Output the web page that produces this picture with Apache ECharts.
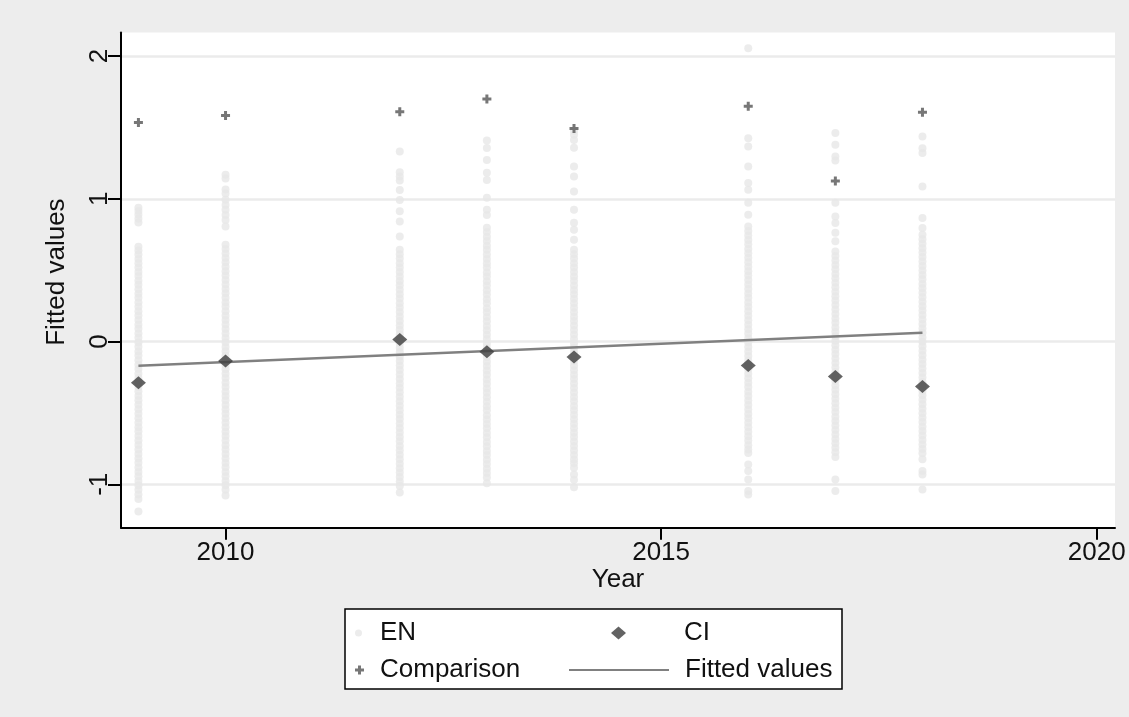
<!DOCTYPE html>
<html>
<head>
<meta charset="utf-8">
<script src="https://cdn.jsdelivr.net/npm/echarts@6/dist/echarts.min.js"></script>
<style>
  html, body { margin: 0; padding: 0; background: #ededed; }
  #chart { width: 1129px; height: 717px; }
</style>
</head>
<body>
<div id="chart"></div>
<script>
// Survey years with an observation
const years = [2009, 2010, 2012, 2013, 2014, 2016, 2017, 2018];

// Year-level means
const ciValues = [-0.289, -0.137, 0.015, -0.071, -0.109, -0.167, -0.244, -0.314];
const comparisonValues = [1.535, 1.584, 1.609, 1.700, 1.493, 1.649, 1.124, 1.607];

// Linear fit, drawn between first and last year
const fitYears = [2009, 2018];
const fitValues = [-0.170, 0.061];

// Individual EN observations per year
const en2009 = [0.937, 0.915, 0.889, 0.861, 0.834,
  0.664, 0.637, 0.609, 0.578, 0.549, 0.518, 0.487, 0.459, 0.426, 0.398, 0.367, 0.335, 0.306, 0.274, 0.243,
  0.212, 0.183, 0.151, 0.118, 0.089, 0.057, 0.026, -0.006, -0.037, -0.069, -0.098, -0.131, -0.162, -0.193,
  -0.226, -0.255, -0.287, -0.318, -0.349, -0.382, -0.411, -0.443, -0.474, -0.506, -0.537, -0.568, -0.601,
  -0.629, -0.662, -0.693, -0.725, -0.756, -0.787, -0.819, -0.849, -0.882, -0.913, -0.944, -0.976, -1.008,
  -1.039, -1.071, -1.103, -1.191];
const en2010 = [1.168, 1.143, 1.066, 1.037, 0.994, 0.957, 0.924, 0.887, 0.852, 0.806,
  0.678, 0.649, 0.617, 0.586, 0.556, 0.524, 0.493, 0.463, 0.431, 0.399, 0.368, 0.338, 0.306, 0.274, 0.245,
  0.213, 0.181, 0.151, 0.119, 0.088, 0.057, 0.025, -0.006, -0.038, -0.068, -0.099, -0.131, -0.163, -0.194,
  -0.225, -0.256, -0.288, -0.318, -0.351, -0.381, -0.412, -0.444, -0.476, -0.506, -0.538, -0.569, -0.601,
  -0.631, -0.662, -0.694, -0.726, -0.757, -0.788, -0.819, -0.851, -0.881, -0.913, -0.944, -0.976, -1.007,
  -1.039, -1.078];
const en2012 = [1.331, 1.186, 1.157, 1.128, 1.061, 0.992, 0.912, 0.841, 0.736,
  0.643, 0.612, 0.581, 0.549, 0.519, 0.487, 0.456, 0.425, 0.394, 0.363, 0.331, 0.301, 0.269, 0.238, 0.207,
  0.176, 0.144, 0.113, 0.082, 0.051, 0.019, -0.012, -0.043, -0.074, -0.106, -0.137, -0.168, -0.199, -0.231,
  -0.262, -0.293, -0.324, -0.356, -0.387, -0.418, -0.449, -0.481, -0.512, -0.543, -0.574, -0.606, -0.637,
  -0.668, -0.699, -0.731, -0.762, -0.793, -0.824, -0.856, -0.887, -0.918, -0.949, -0.981, -1.012, -1.058];
const en2013 = [1.409, 1.356, 1.271, 1.182, 1.131, 1.007, 0.924, 0.887,
  0.797, 0.768, 0.734, 0.705, 0.672, 0.643, 0.609, 0.579, 0.547, 0.518, 0.484, 0.455, 0.422, 0.392, 0.359,
  0.329, 0.297, 0.268, 0.234, 0.205, 0.172, 0.142, 0.109, 0.079, 0.047, 0.018, -0.016, -0.045, -0.078,
  -0.108, -0.141, -0.171, -0.203, -0.232, -0.266, -0.295, -0.328, -0.358, -0.391, -0.421, -0.453, -0.482,
  -0.516, -0.546, -0.578, -0.607, -0.641, -0.671, -0.703, -0.733, -0.766, -0.795, -0.828, -0.858, -0.891,
  -0.921, -0.953, -0.992];
const en2014 = [1.476, 1.449, 1.412, 1.357, 1.226, 1.157, 1.052, 0.923, 0.832, 0.783, 0.713,
  0.643, 0.611, 0.582, 0.549, 0.519, 0.488, 0.455, 0.426, 0.393, 0.362, 0.331, 0.299, 0.269, 0.237, 0.206,
  0.174, 0.144, 0.112, 0.081, 0.049, 0.018, -0.013, -0.044, -0.076, -0.107, -0.138, -0.169, -0.201, -0.232,
  -0.263, -0.294, -0.326, -0.357, -0.388, -0.419, -0.451, -0.482, -0.513, -0.544, -0.576, -0.607, -0.638,
  -0.669, -0.701, -0.732, -0.763, -0.794, -0.826, -0.852, -0.884, -0.931, -0.968, -1.021];
const en2016 = [2.054, 1.424, 1.366, 1.226, 1.111, 1.063, 0.972, 0.889,
  0.806, 0.775, 0.743, 0.712, 0.681, 0.649, 0.618, 0.587, 0.556, 0.524, 0.493, 0.462, 0.431, 0.399, 0.368,
  0.337, 0.306, 0.274, 0.243, 0.212, 0.181, 0.149, 0.118, 0.087, 0.056, 0.024, -0.007, -0.038, -0.069,
  -0.101, -0.132, -0.163, -0.194, -0.226, -0.257, -0.288, -0.319, -0.351, -0.382, -0.413, -0.444, -0.476,
  -0.507, -0.538, -0.569, -0.601, -0.632, -0.663, -0.694, -0.726, -0.757, -0.781, -0.861, -0.907, -0.966,
  -1.047, -1.071];
const en2017 = [1.461, 1.378, 1.296, 1.269, 0.972, 0.876, 0.831, 0.762, 0.703,
  0.631, 0.599, 0.568, 0.537, 0.506, 0.474, 0.443, 0.412, 0.381, 0.349, 0.318, 0.287, 0.256, 0.224, 0.193,
  0.162, 0.131, 0.099, 0.068, 0.037, 0.006, -0.026, -0.057, -0.088, -0.119, -0.151, -0.182, -0.213, -0.244,
  -0.276, -0.307, -0.338, -0.369, -0.401, -0.432, -0.463, -0.494, -0.526, -0.557, -0.588, -0.619, -0.651,
  -0.682, -0.713, -0.744, -0.776, -0.809, -0.966, -1.047];
const en2018 = [1.436, 1.354, 1.321, 1.086, 0.865, 0.795,
  0.748, 0.717, 0.686, 0.654, 0.623, 0.592, 0.561, 0.529, 0.498, 0.467, 0.436, 0.404, 0.373, 0.342, 0.311,
  0.279, 0.248, 0.217, 0.186, 0.154, 0.123, 0.092, 0.061, 0.029, -0.002, -0.033, -0.064, -0.096, -0.127,
  -0.158, -0.189, -0.221, -0.252, -0.283, -0.314, -0.346, -0.377, -0.408, -0.439, -0.471, -0.502, -0.533,
  -0.564, -0.596, -0.627, -0.658, -0.689, -0.721, -0.752, -0.783, -0.824, -0.907, -0.931, -1.036];
const enByYear = [en2009, en2010, en2012, en2013, en2014, en2016, en2017, en2018];

// Axis ticks
const xTicks = [2010, 2015, 2020];
const yTicks = [-1, 0, 1, 2];

const FONT = "'Liberation Sans', Arial, sans-serif";
const INK = '#111111';
const PLUS = 'path://M3,0H6V3H9V6H6V9H3V6H0V3H3Z';

const enData = [];
years.forEach((yr, i) => enByYear[i].forEach(v => enData.push([yr, v])));
const ciData = years.map((yr, i) => [yr, ciValues[i]]);
const cmpData = years.map((yr, i) => [yr, comparisonValues[i]]);
const fitData = fitYears.map((yr, i) => [yr, fitValues[i]]);

const legendText = (padLeft) => ({ fontSize: 26, color: INK, fontFamily: FONT, padding: [0, 0, 0, padLeft] });
const legendBase = { z: 10, orient: 'vertical', padding: 0, selectedMode: false };

const chart = echarts.init(document.getElementById('chart'), null, { renderer: 'canvas' });
chart.setOption({
  backgroundColor: '#ededed',
  animation: false,
  textStyle: { fontFamily: FONT },
  grid: {
    left: 121, right: 14, top: 32.5, bottom: 189.3,
    show: true, backgroundColor: '#ffffff', borderWidth: 0
  },
  graphic: [{
    type: 'rect', z: 1,
    shape: { x: 345, y: 609, width: 497, height: 80 },
    style: { fill: '#ffffff', stroke: '#000000', lineWidth: 1.5 }
  }],
  legend: [
    Object.assign({}, legendBase, {
      left: 355, top: 620, itemWidth: 7, itemHeight: 7,
      data: ['EN'], textStyle: legendText(13)
    }),
    Object.assign({}, legendBase, {
      left: 355, top: 657, itemWidth: 9, itemHeight: 9,
      data: ['Comparison'], textStyle: legendText(11)
    }),
    Object.assign({}, legendBase, {
      left: 611, top: 620, itemWidth: 15, itemHeight: 13,
      data: ['CI'], textStyle: legendText(53)
    }),
    Object.assign({}, legendBase, {
      left: 568, top: 657, itemWidth: 100, itemHeight: 14,
      data: [{ name: 'Fitted values', itemStyle: { opacity: 0 } }],
      textStyle: legendText(11)
    })
  ],
  xAxis: {
    type: 'value', min: 2008.8, max: 2020.21,
    name: 'Year', nameLocation: 'middle', nameGap: 39, nameMoveOverlap: false,
    nameTextStyle: { fontSize: 26, color: INK, fontFamily: FONT },
    axisLine: { show: true, onZero: false, lineStyle: { color: '#000', width: 2 } },
    axisTick: { show: true, customValues: xTicks, length: 12, lineStyle: { color: '#000', width: 2 } },
    axisLabel: {
      customValues: xTicks, fontSize: 26, color: INK, margin: 12, fontFamily: FONT,
      formatter: v => String(v)
    },
    splitLine: { show: false }
  },
  yAxis: {
    type: 'value', min: -1.304, max: 2.165,
    name: 'Fitted values', nameLocation: 'middle', nameGap: 51, nameMoveOverlap: false,
    nameTextStyle: { fontSize: 26, color: INK, fontFamily: FONT, padding: [0, 0, 0, 16] },
    axisLine: { show: true, onZero: false, lineStyle: { color: '#000', width: 2 } },
    axisTick: { show: true, customValues: yTicks, length: 13, lineStyle: { color: '#000', width: 2 } },
    axisLabel: {
      customValues: yTicks, rotate: 90, fontSize: 26, color: INK, margin: 8, fontFamily: FONT,
      formatter: v => String(v)
    },
    splitLine: { show: true, lineStyle: { color: '#ebebeb', width: 2.5 } }
  },
  series: [{
    name: 'EN', type: 'scatter', z: 1, silent: true,
    symbol: 'circle', symbolSize: 8,
    itemStyle: { color: '#e7e7e7' },
    data: enData
  }, {
    name: 'Fitted values', type: 'line', z: 2, silent: true,
    symbol: 'none',
    lineStyle: { color: '#808080', width: 2.5 },
    itemStyle: { color: '#808080' },
    data: fitData
  }, {
    name: 'CI', type: 'scatter', z: 3, silent: true,
    symbol: 'diamond', symbolSize: [15, 13],
    itemStyle: { color: '#3c3c3c' },
    data: ciData
  }, {
    name: 'Comparison', type: 'scatter', z: 4, silent: true,
    symbol: PLUS, symbolSize: 9,
    itemStyle: { color: '#555555' },
    data: cmpData
  }]
});
</script>
</body>
</html>
